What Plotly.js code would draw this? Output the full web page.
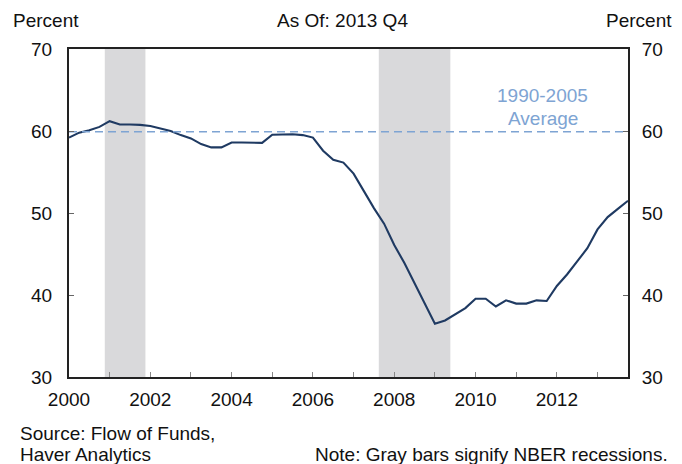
<!DOCTYPE html>
<html>
<head>
<meta charset="utf-8">
<script src="https://cdn.plot.ly/plotly-3.0.1.min.js"></script>
<style>html,body{margin:0;padding:0;background:#fff}#chart{width:682px;height:464px}</style>
</head>
<body>
<div id="chart"></div>
<script>
// Quarterly data, 2000 Q1 .. 2013 Q4 (percent)
const years = [2000,2001,2002,2003,2004,2005,2006,2007,2008,2009,2010,2011,2012,2013];
const quarters = ['Q1','Q2','Q3','Q4'];
const values = [
  59.2, 59.8, 60.1, 60.5,
  61.2, 60.8, 60.8, 60.75,
  60.6, 60.3, 60.0, 59.5,
  59.1, 58.4, 58.0, 58.0,
  58.6, 58.6, 58.55, 58.55,
  59.55, 59.6, 59.6, 59.5,
  59.2, 57.6, 56.5, 56.15,
  54.8, 52.7, 50.6, 48.7,
  46.1, 43.9, 41.5, 39.0,
  36.5, 36.9, 37.7, 38.4,
  39.55, 39.55, 38.6, 39.35,
  38.95, 38.95, 39.35, 39.27,
  41.1, 42.5, 44.1, 45.7,
  48.0, 49.5, 50.5, 51.5
];
const averageValue = 59.9;      // 1990-2005 average
const recessionStart = [2000.88, 2007.62];
const recessionEnd   = [2001.88, 2009.38];
const xTickYears = [2000,2002,2004,2006,2008,2010,2012];
const yTicks = [30,40,50,60,70];

// quarter positions on a decimal-year axis
const xq = [];
years.forEach(y => quarters.forEach((q, i) => xq.push(y + i / 4)));
const xMin = xq[0], xMax = xq[xq.length - 1];

const FONT = 'Liberation Sans, Arial, Helvetica, sans-serif';
const FS = 19;
const AVG_COLOR = '#7ea4d3';

const traces = [
  {
    x: [xMin, xMax], y: [averageValue, averageValue], yaxis: 'y2',
    mode: 'lines', line: {color: AVG_COLOR, width: 1.6, dash: '8px,5px'},
    hoverinfo: 'skip', showlegend: false
  },
  {
    x: xq, y: values, mode: 'lines',
    line: {color: '#1f3a62', width: 2.1}, showlegend: false
  }
];

const shapes = recessionStart.map((s, i) => ({
  type: 'rect', xref: 'x', yref: 'paper', x0: s, x1: recessionEnd[i], y0: 0, y1: 1,
  fillcolor: '#d9d9db', line: {width: 0}, layer: 'below'
}));

const layout = {
  width: 682, height: 464,
  margin: {l: 69, r: 54, t: 49, b: 87, pad: 0},
  paper_bgcolor: '#fff', plot_bgcolor: '#fff',
  font: {family: FONT, size: FS, color: '#111'},
  showlegend: false,
  shapes: shapes,
  xaxis: {
    range: [xMin, xMax], showgrid: false, zeroline: false,
    showline: true, linecolor: '#222', linewidth: 2, mirror: true,
    tickvals: xTickYears, ticktext: xTickYears.map(String),
    ticks: 'inside', ticklen: 5, tickcolor: '#888', tickwidth: 1,
    minor: {dtick: 1, tick0: 2000, ticks: 'inside', ticklen: 5, tickcolor: '#888', tickwidth: 1, showgrid: false},
    tickfont: {size: FS}, ticklabelstandoff: 4, fixedrange: true
  },
  yaxis: {
    range: [30, 70], showgrid: false, zeroline: false,
    showline: true, linecolor: '#222', linewidth: 2,
    tickvals: yTicks, ticks: 'inside', ticklen: 5, tickcolor: '#666', tickwidth: 1,
    tickfont: {size: FS}, ticklabelstandoff: 11, fixedrange: true
  },
  yaxis2: {
    range: [30, 70], overlaying: 'y', side: 'right', showgrid: false, zeroline: false,
    showline: true, linecolor: '#222', linewidth: 2,
    tickvals: yTicks, ticks: 'inside', ticklen: 5, tickcolor: '#666', tickwidth: 1,
    tickfont: {size: FS}, ticklabelstandoff: 8, fixedrange: true
  },
  annotations: [
    {text: 'Percent', xref: 'paper', yref: 'paper', x: -0.103, y: 1.0, xanchor: 'left', yanchor: 'bottom', yshift: 16, showarrow: false, font: {size: FS}},
    {text: 'Percent', xref: 'paper', yref: 'paper', x: 1.083, y: 1.0, xanchor: 'right', yanchor: 'bottom', yshift: 16, showarrow: false, font: {size: FS}},
    {text: 'As Of: 2013 Q4', xref: 'paper', yref: 'paper', x: 0.49, y: 1.0, xanchor: 'center', yanchor: 'bottom', yshift: 16, showarrow: false, font: {size: FS}},
    {text: '1990-2005', xref: 'x', yref: 'y', x: 2011.65, y: 64.3, xanchor: 'center', yanchor: 'middle', showarrow: false, font: {size: FS, color: AVG_COLOR}},
    {text: 'Average', xref: 'x', yref: 'y', x: 2011.65, y: 61.5, xanchor: 'center', yanchor: 'middle', showarrow: false, font: {size: FS, color: AVG_COLOR}},
    {text: 'Source: Flow of Funds,', xref: 'paper', yref: 'paper', x: -0.092, y: 0, xanchor: 'left', yanchor: 'middle', yshift: -56, showarrow: false, font: {size: FS}},
    {text: 'Haver Analytics', xref: 'paper', yref: 'paper', x: -0.092, y: 0, xanchor: 'left', yanchor: 'middle', yshift: -77, showarrow: false, font: {size: FS}},
    {text: 'Note: Gray bars signify NBER recessions.', xref: 'paper', yref: 'paper', x: 1.075, y: 0, xanchor: 'right', yanchor: 'middle', yshift: -77, showarrow: false, font: {size: FS}}
  ]
};

Plotly.newPlot('chart', traces, layout, {staticPlot: true, displayModeBar: false});
</script>
</body>
</html>
